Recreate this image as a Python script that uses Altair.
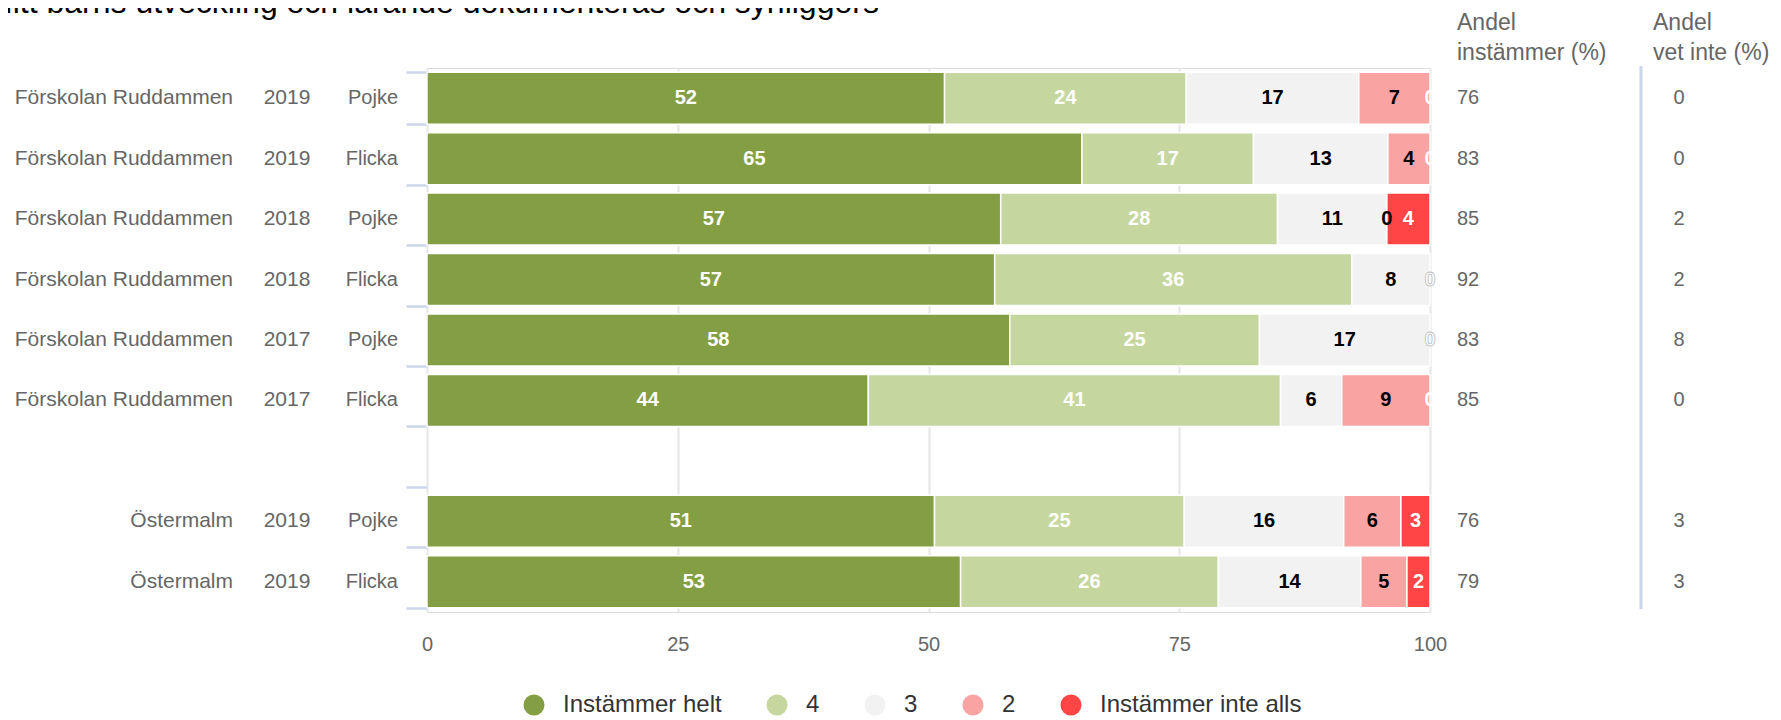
import altair as alt
import pandas as pd

FONT = "Liberation Sans"

title_text = "Mitt barns utveckling och lärande dokumenteras och synliggörs"
categories = ["Instämmer helt", "4", "3", "2", "Instämmer inte alls"]
colors = ["#839e43", "#c5d79e", "#f2f2f2", "#faa3a3", "#ff4545"]

units = ["Förskolan Ruddammen"] * 6 + ["Östermalm"] * 2
years = ["2019", "2019", "2018", "2018", "2017", "2017", "2019", "2019"]
genders = ["Pojke", "Flicka", "Pojke", "Flicka", "Pojke", "Flicka", "Pojke", "Flicka"]

s_helt = [51.6, 65.3, 57.2, 56.6, 58.1, 44.0, 50.6, 53.2]
s_4 = [24.1, 17.1, 27.6, 35.6, 24.9, 41.1, 24.9, 25.7]
s_3 = [17.2, 13.4, 10.9, 7.8, 17.0, 6.1, 15.9, 14.2]
s_2 = [7.1, 4.2, 0.0, 0.0, 0.0, 8.8, 5.7, 4.6]
s_inte = [0.0, 0.0, 4.3, 0.0, 0.0, 0.0, 2.9, 2.3]

andel_instammer = [76, 83, 85, 92, 83, 85, 76, 79]
andel_vet_inte = [0, 0, 2, 2, 8, 0, 3, 3]

header_1 = ["Andel", "instämmer (%)"]
header_2 = ["Andel", "vet inte (%)"]
x_ticks = [0, 25, 50, 75, 100]

# ---------------------------------------------------------------- data
keys = [f"{u}|{y}|{g}" for u, y, g in zip(units, years, genders)]
GAP = " "
y_domain = keys[:6] + [GAP] + keys[6:]

series = [s_helt, s_4, s_3, s_2, s_inte]
seg_rows = []
lab_rows = []
for i, k in enumerate(keys):
    start = 0.0
    vals = [s[i] for s in series]
    for j, cat in enumerate(categories):
        v = vals[j]
        end = start + v
        seg_rows.append(dict(row=k, cat=cat, order=j, start=start, end=end, value=v))
        label = str(int(v + 0.5))
        tone = "dark" if j in (2, 3) else "light"
        show = True
        if v == 0:
            # zero segment sharing its position with the next zero segment: hidden
            if j < len(categories) - 1 and vals[j + 1] == 0 and abs(end - 100) < 1e-9:
                show = False
            if j == len(categories) - 1 and vals[j - 1] == 0:
                tone = "ghost"
        if show:
            lab_rows.append(dict(row=k, mid=(start + end) / 2, label=label, tone=tone))
        start = end

seg = pd.DataFrame(seg_rows)
seg = seg[seg["value"] > 0]
labs = pd.DataFrame(lab_rows)
rows = pd.DataFrame(dict(row=keys, unit=units, year=years, gender=genders,
                         ins=[str(v) for v in andel_instammer],
                         vet=[str(v) for v in andel_vet_inte]))
one = pd.DataFrame({"a": [0]})

xs = alt.Scale(domain=[0, 100], nice=False, zero=True)
ys = alt.Scale(domain=y_domain, paddingInner=0.14, paddingOuter=0.07)

x_axis = alt.Axis(values=x_ticks, grid=True, gridColor="#e6e6e6", gridWidth=2,
                  domain=False, ticks=False, labelColor="#666666", labelFontSize=20,
                  labelFont=FONT, labelPadding=22, title=None, labelFlush=False)
y_axis = alt.Axis(labels=False, domain=False, grid=False, ticks=True, tickBand="extent",
                  tickColor="#ccd6eb", tickSize=21, tickWidth=2.5, title=None)

bars = alt.Chart(seg).mark_bar(stroke="white", strokeWidth=1.5).encode(
    x=alt.X("start:Q", scale=xs, axis=x_axis),
    x2="end:Q",
    y=alt.Y("row:N", scale=ys, axis=y_axis),
    color=alt.Color("cat:N", scale=alt.Scale(domain=categories, range=colors),
                    legend=alt.Legend(orient="none", legendX=95, legendY=625,
                                      direction="horizontal", title=None,
                                      symbolType="circle", symbolSize=440,
                                      symbolStrokeWidth=0, symbolOpacity=1,
                                      labelFontSize=24, labelColor="#333333",
                                      labelFont=FONT, labelOffset=17, labelLimit=0,
                                      columnPadding=43, padding=0)),
    order=alt.Order("order:Q"),
)

lab_main = alt.Chart(labs).transform_filter(alt.datum.tone != "ghost").mark_text(
    font=FONT, fontSize=20, fontWeight="bold", baseline="middle", align="center"
).encode(
    x=alt.X("mid:Q", scale=xs),
    y=alt.Y("row:N", scale=ys),
    text="label:N",
    color=alt.condition(alt.datum.tone == "dark", alt.value("#000000"), alt.value("#ffffff")),
)

lab_ghost = alt.Chart(labs).transform_filter(alt.datum.tone == "ghost").mark_text(
    font=FONT, fontSize=20, fontWeight="bold", baseline="middle", align="center",
    fill="#ffffff", stroke="#bdbdbd", strokeWidth=0.8
).encode(
    x=alt.X("mid:Q", scale=xs),
    y=alt.Y("row:N", scale=ys),
    text="label:N",
)

def side_text(field, xpos, align, size=20):
    return alt.Chart(rows).mark_text(
        font=FONT, fontSize=size, color="#666666", baseline="middle", align=align
    ).encode(x=alt.value(xpos), y=alt.Y("row:N", scale=ys), text=f"{field}:N")

t_unit = side_text("unit", -194, "right", 21)
t_year = side_text("year", -140, "center", 21)
t_gender = side_text("gender", -29, "right", 20)
t_ins = side_text("ins", 1030, "left")
t_vet = side_text("vet", 1252, "center")

def head(txt, xpos, ypos):
    return alt.Chart(one).mark_text(
        text=txt, font=FONT, fontSize=23, color="#666666", baseline="middle", align="left"
    ).encode(x=alt.value(xpos), y=alt.value(ypos))

heads = [head(header_1[0], 1030, -45), head(header_1[1], 1030, -15),
         head(header_2[0], 1226, -45), head(header_2[1], 1226, -15)]

sep_rule = alt.Chart(one).mark_rule(color="#ccd6eb", strokeWidth=3).encode(
    x=alt.value(1214), y=alt.value(-2), y2=alt.value(541)
)

title = alt.Chart(one).mark_text(
    text=title_text, font=FONT, fontSize=32, color="#000000",
    baseline="alphabetic", align="left"
).encode(x=alt.value(-441), y=alt.value(-55))

chart = alt.layer(
    bars, lab_main, lab_ghost, t_unit, t_year, t_gender, t_ins, t_vet,
    *heads, sep_rule, title
).properties(
    width=1003, height=544,
    autosize=alt.AutoSizeParams(type="none"),
    padding={"left": 419, "top": 60, "right": 343, "bottom": 108},
    background="white",
).configure_view(strokeWidth=0).configure(font=FONT)

chart.save("out.html", embed_options={"renderer": "svg", "actions": False})
